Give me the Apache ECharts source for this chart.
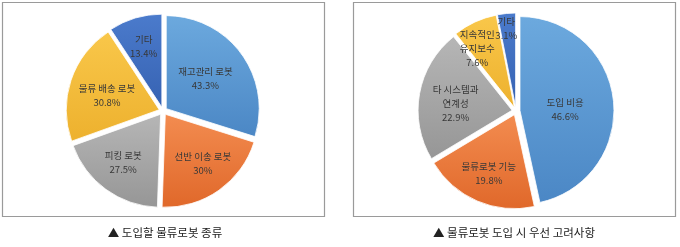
<!DOCTYPE html>
<html><head><meta charset="utf-8">
<script src="https://cdn.jsdelivr.net/npm/echarts@6/dist/echarts.min.js"></script>
<style>html,body{margin:0;padding:0;background:#fff}#c{width:680px;height:247px}</style>
</head><body><div id="c"></div>
<script>
// ---- data ----
const cats1 = ['재고관리 로봇', '선반 이송 로봇', '피킹 로봇', '물류 배송 로봇', '기타'];
const vals1 = [43.3, 30, 27.5, 30.8, 13.4];
const cats2 = ['도입 비용', '물류로봇 기능', '타 시스템과\n연계성', '지속적인\n유지보수', '기타'];
const vals2 = [46.6, 19.8, 22.9, 7.6, 3.1];
const caption1 = '▲ 도입할 물류로봇 종류';
const caption2 = '▲ 물류로봇 도입 시 우선 고려사항';

// ---- styles ----
const FONT = '"Noto Sans CJK KR", "Noto Sans", sans-serif';
const palette = [
  ['#6CA9DE', '#4B87C5'], // blue
  ['#F38C50', '#E0682A'], // orange
  ['#B6B6B6', '#969696'], // gray
  ['#F9C74A', '#EDB12E'], // yellow
  ['#4B7BCC', '#3662B2']  // dark blue
];
const grad = (c) => new echarts.graphic.LinearGradient(0, 0, 0, 1, [
  { offset: 0, color: c[0] }, { offset: 1, color: c[1] }
]);
// label nudges (dx, dy)
const nudge1 = [[-12, 7], [1, -3], [0, -3], [8, 6], null];
const nudge2 = [[-19, 6], null, [7, 5], [-10, 0], [-3, -14]];

function mainPie(center, r, cats, vals) {
  return {
    type: 'pie', center: center, radius: [0, r], startAngle: 90, clockwise: true,
    selectedMode: 'multiple', selectedOffset: 4, animation: false, z: 2,
    label: { show: false }, labelLine: { show: false },
    itemStyle: { borderColor: '#fff', borderWidth: 0.8 },
    select: { itemStyle: { borderColor: '#fff', borderWidth: 0.8 }, label: { show: false } },
    emphasis: { scale: false, label: { show: false } },
    data: cats.map((n, i) => ({ name: n, value: vals[i], selected: true, itemStyle: { color: grad(palette[i]) } }))
  };
}
function labelPie(center, r, cats, vals, nudge) {
  return {
    type: 'pie', center: center, radius: [Math.round(r * 0.39), r], startAngle: 90, clockwise: true,
    silent: true, animation: false, z: 10,
    itemStyle: { color: 'rgba(0,0,0,0)', borderWidth: 0 },
    label: {
      show: true, position: 'inside', formatter: '{b}\n{c}%',
      fontSize: 9.5, lineHeight: 14, color: '#383838', fontFamily: FONT
    },
    labelLine: { show: false },
    labelLayout: (p) => { const a = nudge[p.dataIndex]; return a ? { dx: a[0], dy: a[1] } : {}; },
    data: cats.map((n, i) => ({ name: n, value: vals[i] }))
  };
}

const chart = echarts.init(document.getElementById('c'), null, { renderer: 'canvas' });
chart.setOption({
  backgroundColor: '#fff',
  animation: false,
  graphic: [
    { type: 'rect', shape: { x: 2.5, y: 2.5, width: 322, height: 214 }, style: { fill: 'none', stroke: '#9a9a9a', lineWidth: 1.2 }, z: -1 },
    { type: 'rect', shape: { x: 353.5, y: 2.5, width: 322, height: 214 }, style: { fill: 'none', stroke: '#9a9a9a', lineWidth: 1.2 }, z: -1 },
    { type: 'text', x: 165, y: 233, style: { text: caption1, textAlign: 'center', textVerticalAlign: 'middle', font: '11.5px ' + FONT, fill: '#222' } },
    { type: 'text', x: 514, y: 233, style: { text: caption2, textAlign: 'center', textVerticalAlign: 'middle', font: '11.5px ' + FONT, fill: '#222' } }
  ],
  series: [
    mainPie([163, 111], 93, cats1, vals1),
    mainPie([516, 111], 94, cats2, vals2),
    labelPie([163, 111], 93, cats1, vals1, nudge1),
    labelPie([516, 111], 94, cats2, vals2, nudge2)
  ]
});
</script>
</body></html>
